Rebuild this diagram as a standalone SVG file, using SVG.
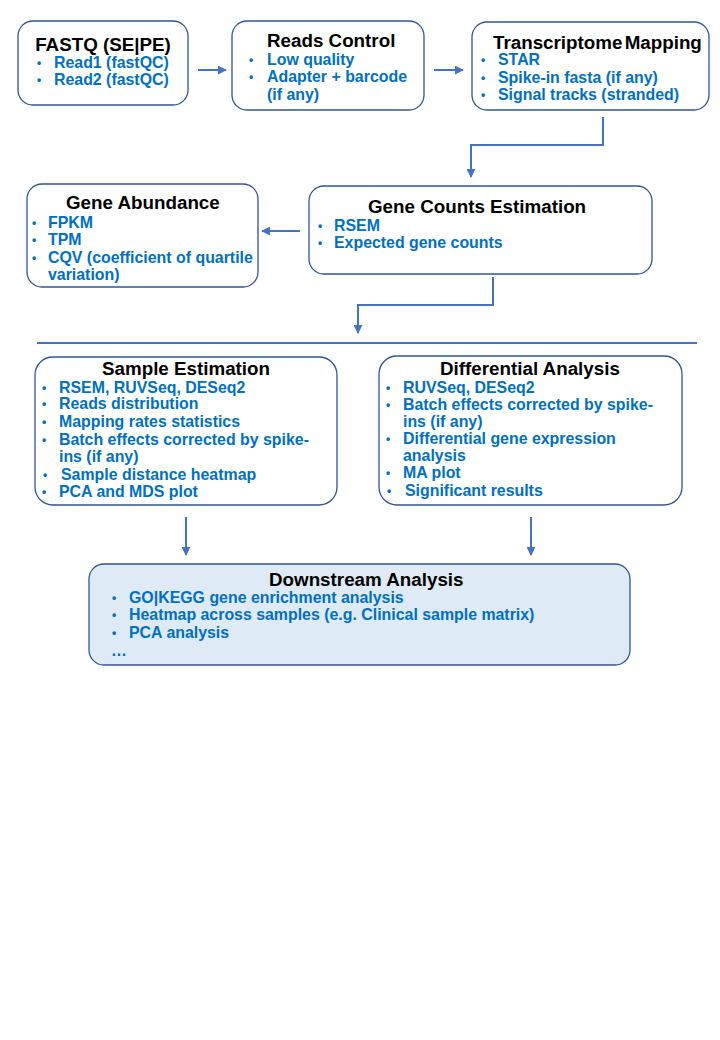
<svg xmlns="http://www.w3.org/2000/svg" width="720" height="1040" viewBox="0 0 720 1040">
<defs>
<marker id="ah" viewBox="0 0 10 10" refX="9" refY="5" markerWidth="4.5" markerHeight="4.5" orient="auto" markerUnits="strokeWidth">
<path d="M0,0 L10,5 L0,10 z" fill="#4472C4"/>
</marker>
<style>
.box{fill:#FFFFFF;stroke:#2F5597;stroke-width:1.3}
.dbox{fill:#DEEAF6;stroke:#2F5597;stroke-width:1.3}
.t{font-family:"Liberation Sans",Arial,sans-serif;font-weight:bold;font-size:18.8px;fill:#000000}
.b{font-family:"Liberation Sans",Arial,sans-serif;font-weight:bold;font-size:15.9px;fill:#0070C0}
.bu{font-family:"Liberation Sans",Arial,sans-serif;font-weight:bold;font-size:12px;fill:#0070C0}
.c{fill:none;stroke:#4472C4;stroke-width:2}
</style>
</defs>
<rect width="720" height="1040" fill="#FFFFFF"/>
<g id="connectors">
<line class="c" x1="198" y1="70" x2="226" y2="70" marker-end="url(#ah)"/>
<line class="c" x1="434" y1="70" x2="463" y2="70" marker-end="url(#ah)"/>
<polyline class="c" points="603,117 603,145 471,145 471,177" marker-end="url(#ah)"/>
<line class="c" x1="300" y1="231" x2="262" y2="231" marker-end="url(#ah)"/>
<polyline class="c" points="493,277 493,305 358,305 358,333" marker-end="url(#ah)"/>
<line class="c" x1="37" y1="343" x2="697" y2="343"/>
<line class="c" x1="186" y1="517" x2="186" y2="555" marker-end="url(#ah)"/>
<line class="c" x1="531" y1="517" x2="531" y2="555" marker-end="url(#ah)"/>
</g>
<g id="fastq">
<rect class="box" x="18" y="21" width="170" height="84" rx="15"/>
<text class="t" x="103" y="51" text-anchor="middle">FASTQ (SE|PE)</text>
<text class="bu" x="37" y="67">•</text><text class="b" x="54" y="68">Read1 (fastQC)</text>
<text class="bu" x="37" y="84">•</text><text class="b" x="54" y="85">Read2 (fastQC)</text>
</g>
<g id="reads-control">
<rect class="box" x="232" y="21" width="192" height="89" rx="15"/>
<text class="t" x="267" y="47">Reads Control</text>
<text class="bu" x="249" y="64">•</text><text class="b" x="267" y="65">Low quality</text>
<text class="bu" x="249" y="81">•</text><text class="b" x="267" y="82">Adapter + barcode</text>
<text class="b" x="267" y="100">(if any)</text>
</g>
<g id="transcriptome-mapping">
<rect class="box" x="472" y="22" width="237" height="88" rx="15"/>
<text class="t" x="493" y="49" word-spacing="-3">Transcriptome Mapping</text>
<text class="bu" x="481" y="64">•</text><text class="b" x="498" y="65">STAR</text>
<text class="bu" x="481" y="82">•</text><text class="b" x="498" y="83">Spike-in fasta (if any)</text>
<text class="bu" x="481" y="99">•</text><text class="b" x="498" y="100">Signal tracks (stranded)</text>
</g>
<g id="gene-abundance">
<rect class="box" x="27" y="184" width="231" height="103" rx="15"/>
<text class="t" x="66" y="209">Gene Abundance</text>
<text class="bu" x="32" y="227">•</text><text class="b" x="48" y="228">FPKM</text>
<text class="bu" x="32" y="244">•</text><text class="b" x="48" y="245">TPM</text>
<text class="bu" x="32" y="262">•</text><text class="b" x="48" y="263">CQV (coefficient of quartile</text>
<text class="b" x="48" y="280">variation)</text>
</g>
<g id="gene-counts">
<rect class="box" x="309" y="186" width="343" height="88" rx="15"/>
<text class="t" x="368" y="213">Gene Counts Estimation</text>
<text class="bu" x="318" y="230">•</text><text class="b" x="334" y="231">RSEM</text>
<text class="bu" x="318" y="247">•</text><text class="b" x="334" y="248">Expected gene counts</text>
</g>
<g id="sample-estimation">
<rect class="box" x="35" y="357" width="302" height="148" rx="18"/>
<text class="t" x="102" y="375">Sample Estimation</text>
<text class="bu" x="42" y="392">•</text><text class="b" x="59" y="393">RSEM, RUVSeq, DESeq2</text>
<text class="bu" x="42" y="408">•</text><text class="b" x="59" y="409">Reads distribution</text>
<text class="bu" x="42" y="426">•</text><text class="b" x="59" y="427">Mapping rates statistics</text>
<text class="bu" x="42" y="444">•</text><text class="b" x="59" y="445">Batch effects corrected by spike-</text>
<text class="b" x="59" y="462">ins (if any)</text>
<text class="bu" x="43" y="479">•</text><text class="b" x="61" y="480">Sample distance heatmap</text>
<text class="bu" x="42" y="496">•</text><text class="b" x="59" y="497">PCA and MDS plot</text>
</g>
<g id="differential-analysis">
<rect class="box" x="379" y="356" width="303" height="149" rx="18"/>
<text class="t" x="440" y="375">Differential Analysis</text>
<text class="bu" x="386" y="392">•</text><text class="b" x="403" y="393">RUVSeq, DESeq2</text>
<text class="bu" x="386" y="409">•</text><text class="b" x="403" y="410">Batch effects corrected by spike-</text>
<text class="b" x="403" y="427">ins (if any)</text>
<text class="bu" x="386" y="443">•</text><text class="b" x="403" y="444">Differential gene expression</text>
<text class="b" x="403" y="461">analysis</text>
<text class="bu" x="386" y="477">•</text><text class="b" x="403" y="478">MA plot</text>
<text class="bu" x="387" y="495">•</text><text class="b" x="405" y="496">Significant results</text>
</g>
<g id="downstream-analysis">
<rect class="dbox" x="89" y="564" width="541" height="101" rx="15"/>
<text class="t" x="269" y="586">Downstream Analysis</text>
<text class="bu" x="112" y="602">•</text><text class="b" x="129" y="603">GO|KEGG gene enrichment analysis</text>
<text class="bu" x="112" y="619">•</text><text class="b" x="129" y="620">Heatmap across samples (e.g. Clinical sample matrix)</text>
<text class="bu" x="112" y="637">•</text><text class="b" x="129" y="638">PCA analysis</text>
<text class="b" x="111" y="656">…</text>
</g>
</svg>
